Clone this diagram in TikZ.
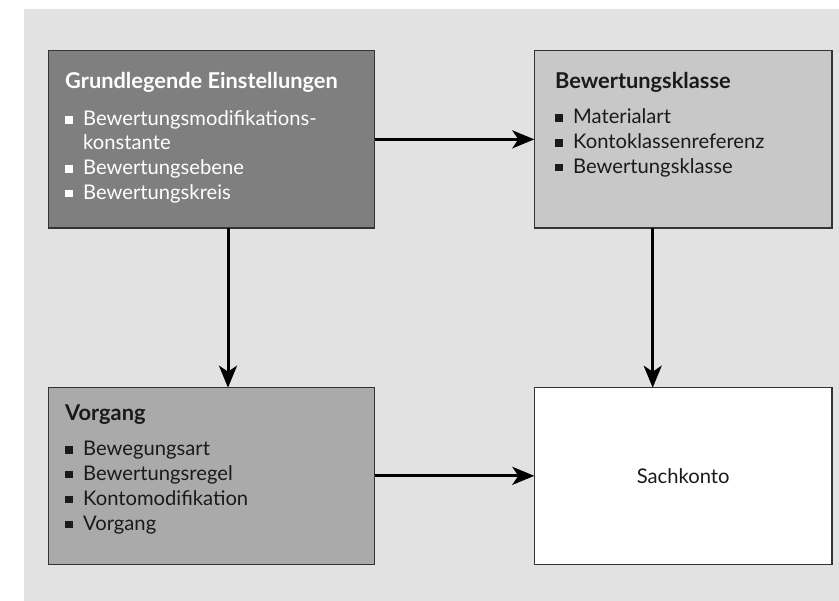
\documentclass[tikz,border=0pt]{standalone}
\usepackage{fontspec}
\setmainfont{Lato}
\usetikzlibrary{arrows.meta}
\definecolor{bgc}{HTML}{E2E2E2}
\definecolor{darkbox}{HTML}{7F7F7F}
\definecolor{lightbox}{HTML}{C8C8C8}
\definecolor{midbox}{HTML}{AAAAAA}
\definecolor{edgec}{HTML}{333333}
\definecolor{txtc}{HTML}{1A1A1A}
\newcommand{\bul}{\makebox[18bp][l]{\rule[2bp]{7.5bp}{7.5bp}}}
\tikzset{
  box/.style={draw=edgec, line width=1.2bp, minimum height=177.3bp, inner sep=0pt, outer sep=0pt},
  ttl/.style={anchor=base west, inner sep=0pt, font=\fontsize{21.8bp}{24bp}\selectfont\bfseries},
  itm/.style={anchor=base west, inner sep=0pt, font=\fontsize{20.2bp}{24bp}\selectfont},
  conn/.style={line width=3bp, -{Stealth[length=22bp, width=18bp, inset=6bp]}},
}
\begin{document}
\begin{tikzpicture}[x=1bp, y=-1bp]
\useasboundingbox (0,0) rectangle (839,601);
\fill[bgc] (24,9) rectangle (839,601);
% boxes
\node[box, fill=darkbox, minimum width=326bp] (b1) at (211.7,139.35) {};
\node[box, fill=lightbox, minimum width=297.7bp] (b2) at (683.15,139.35) {};
\node[box, fill=midbox, minimum width=326bp] (b3) at (211.7,475.85) {};
\node[box, fill=white, minimum width=297.7bp] (b4) at (683.15,475.85) {};
% connector points
\coordinate (d1s) at (228,228);
\coordinate (d1e) at (228,387.7);
\coordinate (d2s) at (652.7,228);
\coordinate (d2e) at (652.7,387.7);
\draw[conn] (b1.east) -- (b2.west);
\draw[conn] (b3.east) -- (b4.west);
\draw[conn] (d1s) -- (d1e);
\draw[conn] (d2s) -- (d2e);
% box 1 text
\begin{scope}[color=white]
\node[ttl] (t1) at (65,88.3) {Grundlegende Einstellungen};
\node[itm] (t1a) at (65,126) {\bul Bewertungsmodifikations-};
\node[itm] (t1b) at (83,150) {konstante};
\node[itm] (t1c) at (65,175) {\bul Bewertungsebene};
\node[itm] (t1d) at (65,199.5) {\bul Bewertungskreis};
\end{scope}
% box 2 text
\begin{scope}[color=txtc]
\node[ttl] (t2) at (555,88.3) {Bewertungsklasse};
\node[itm] (t2a) at (555,124) {\bul Materialart};
\node[itm] (t2b) at (555,149) {\bul Kontoklassenreferenz};
\node[itm] (t2c) at (555,173.5) {\bul Bewertungsklasse};
% box 3 text
\node[ttl] (t3) at (65,420.5) {Vorgang};
\node[itm] (t3a) at (65,455.5) {\bul Bewegungsart};
\node[itm] (t3b) at (65,480) {\bul Bewertungsregel};
\node[itm] (t3c) at (65,505) {\bul Kontomodifikation};
\node[itm] (t3d) at (65,530) {\bul Vorgang};
% box 4 text
\node[font=\fontsize{20.2bp}{24bp}\selectfont, inner sep=0pt] (t4) at (b4.center) {Sachkonto};
\end{scope}
\end{tikzpicture}
\end{document}
